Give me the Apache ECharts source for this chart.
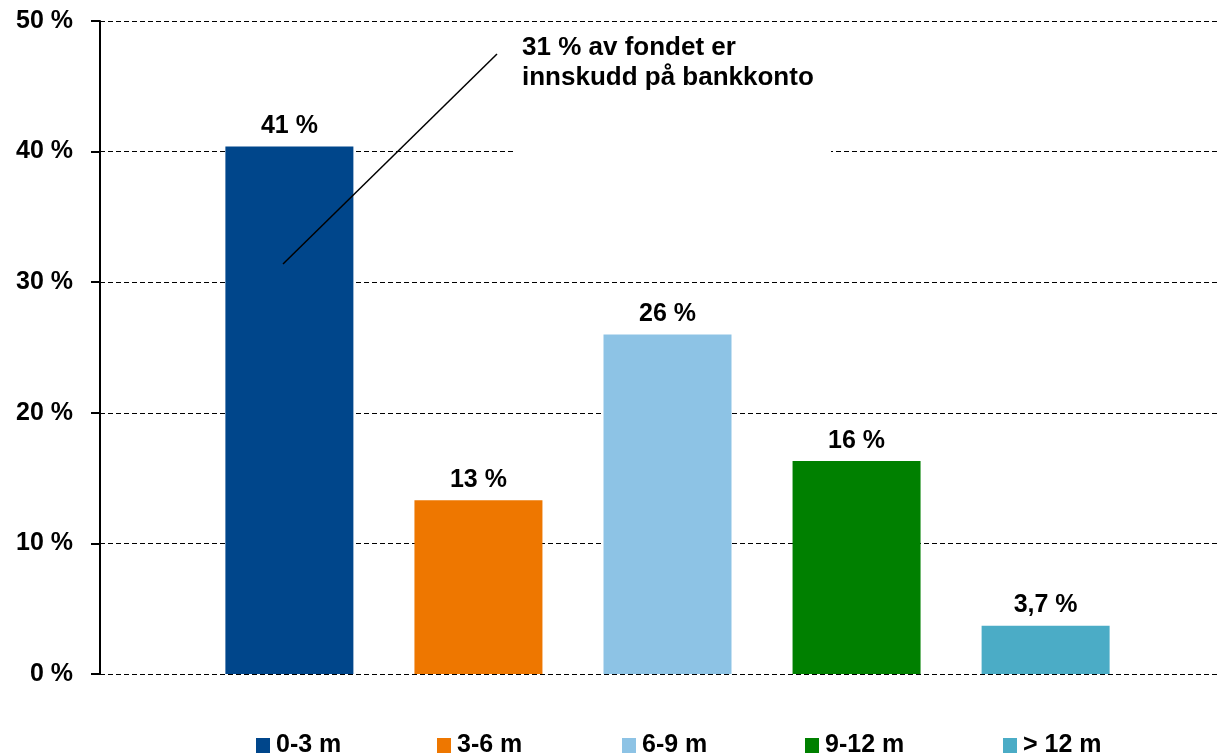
<!DOCTYPE html>
<html><head><meta charset="utf-8">
<script src="https://cdn.jsdelivr.net/npm/echarts@6/dist/echarts.min.js"></script>
<style>html,body{margin:0;padding:0;background:#fff}#c{width:1218px;height:756px}</style>
</head><body><div id="c"></div>
<script>
const seriesNames = ['0-3 m', '3-6 m', '6-9 m', '9-12 m', '> 12 m'];
const seriesValues = [40.4, 13.3, 26.0, 16.3, 3.7];
const valueLabels = ['41 %', '13 %', '26 %', '16 %', '3,7 %'];
const colors = ['#00468B', '#EE7700', '#8DC3E5', '#008000', '#4BACC6'];
const yTicks = [0, 10, 20, 30, 40, 50];
const legendLefts = [256, 437, 622, 805, 1003];
const annotation = ['31 % av fondet er', 'innskudd på bankkonto'];

const FONT = '"Liberation Sans", Arial, sans-serif';
const chart = echarts.init(document.getElementById('c'));

const series = seriesNames.map((n, i) => ({
  name: n,
  type: 'bar',
  data: [seriesValues[i]],
  barWidth: 128,
  barGap: '47.7%',
  itemStyle: { color: colors[i] },
  label: {
    show: true, position: 'top', distance: 8,
    formatter: () => valueLabels[i],
    fontFamily: FONT, fontWeight: 'bold', fontSize: 25, color: '#000'
  }
}));

const legends = seriesNames.map((n, i) => ({
  data: [n], left: legendLefts[i], top: 733, padding: 0,
  itemWidth: 14, itemHeight: 15, itemGap: 0, icon: 'rect',
  selectedMode: false,
  textStyle: { fontFamily: FONT, fontWeight: 'bold', fontSize: 25, color: '#000', padding: [0, 0, 0, 1] }
}));

chart.setOption({
  animation: false,
  backgroundColor: '#fff',
  grid: { left: 100, top: 21, right: -17, bottom: 82, outerBoundsMode: 'none' },
  legend: legends,
  xAxis: {
    type: 'category', data: [''],
    axisLine: { show: false }, axisTick: { show: false }, axisLabel: { show: false }
  },
  yAxis: {
    type: 'value', min: yTicks[0], max: yTicks[yTicks.length - 1], interval: 10,
    axisLine: { show: true, lineStyle: { color: '#000', width: 2 } },
    axisTick: { show: true, length: 9, lineStyle: { color: '#000', width: 2 } },
    axisLabel: {
      margin: 27, formatter: '{value} %',
      fontFamily: FONT, fontWeight: 'bold', fontSize: 25, color: '#000'
    },
    splitLine: { show: true, lineStyle: { color: '#000', width: 1, type: [5, 3] } }
  },
  series: series,
  graphic: [
    { type: 'rect', shape: { x: 514, y: 26, width: 317, height: 134 }, style: { fill: '#fff' }, z: 10 },
    { type: 'line', shape: { x1: 283, y1: 264, x2: 497, y2: 54 }, style: { stroke: '#000', lineWidth: 1.5 }, z: 11 },
    { type: 'text', left: 522, top: 33, z: 12,
      style: { text: annotation.join('\n'), font: 'bold 26px ' + FONT, fill: '#000', lineHeight: 30 } }
  ]
});
</script></body></html>
